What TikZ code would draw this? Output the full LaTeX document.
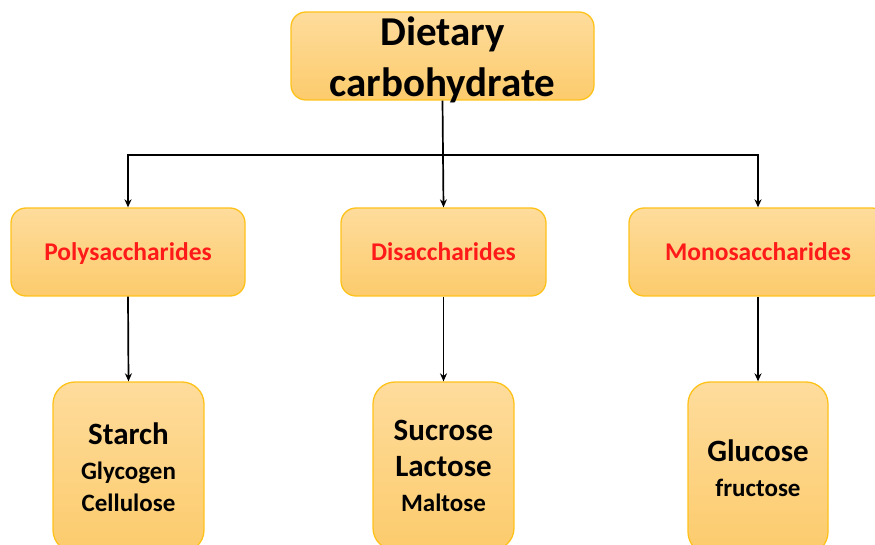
\documentclass[tikz,border=0pt]{standalone}
\usepackage{fontspec}
\setmainfont{Carlito}
\usetikzlibrary{arrows.meta,calc}
\definecolor{boxedge}{HTML}{FFC21A}
\definecolor{boxtop}{HTML}{FEDC9C}
\definecolor{boxbot}{HTML}{FCCB6C}
\definecolor{catred}{HTML}{FF1A1A}
\tikzset{
  cbox/.style={draw=boxedge, line width=1.3pt, top color=boxtop, bottom color=boxbot,
    rounded corners=15pt, align=center, inner sep=0pt, font=\bfseries},
  catbox/.style={cbox, minimum height=88pt, text=catred, text depth=0pt, font=\bfseries\fontsize{25.5}{30}\selectfont},
  leafbox/.style={cbox, rounded corners=22pt, minimum width=#1, font=\bfseries\fontsize{25}{35}\selectfont},
  arr/.style={draw=black, line width=1.7pt, -{Stealth[length=8pt,width=7pt]}}
}
\newcommand{\bigline}[1]{{\fontsize{31}{35}\selectfont #1}}
\begin{document}
\begin{tikzpicture}[x=1pt,y=1pt]
\useasboundingbox (0,0) rectangle (875,544);
\begin{scope}
\clip (0,0) rectangle (875,544);
\node[cbox, minimum width=303pt, minimum height=88pt] (top) at (442.5,488) {};
\node[align=center, inner sep=0pt, font=\bfseries\fontsize{41}{51}\selectfont] (toptitle) at (442.5,484) {Dietary\\carbohydrate};
\node[catbox, minimum width=234pt] (poly) at (128,292) {Polysaccharides};
\node[catbox, minimum width=205pt] (di) at (443.5,292) {Disaccharides};
\node[catbox, minimum width=258pt] (mono) at (758,292) {Monosaccharides};
\node[leafbox=151pt, minimum height=170pt] (starch) at (128.5,77) {\bigline{Starch}\\Glycogen\\[-3pt]Cellulose};
\node[leafbox=141pt, minimum height=168pt] (sucrose) at (443.5,78) {\bigline{Sucrose}\\[1pt]\bigline{Lactose}\\Maltose};
\node[leafbox=140pt, minimum height=172pt] (glucose) at (758,76) {\bigline{Glucose}\\fructose};
\end{scope}
\coordinate (bar) at (442.5,389);
\draw[arr] (top.south) -- (di.north);
\draw[arr] (bar) -| (poly.north);
\draw[arr] (bar) -| (mono.north);
\draw[arr] (poly.south) -- (starch.north);
\draw[arr] (di.south) -- (sucrose.north);
\draw[arr] (mono.south) -- (glucose.north);
\end{tikzpicture}
\end{document}
